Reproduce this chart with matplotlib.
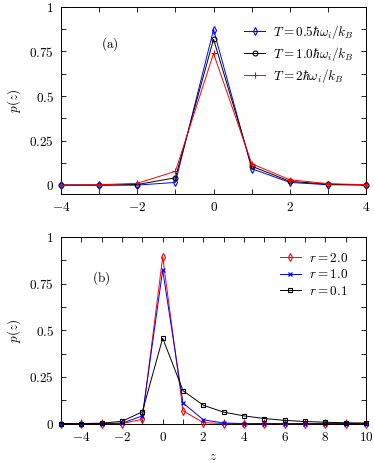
import numpy as np
import matplotlib
matplotlib.use("Agg")
import matplotlib.pyplot as plt
from matplotlib.ticker import MultipleLocator, FuncFormatter

plt.rcParams['mathtext.fontset'] = 'cm'
plt.rcParams['font.family'] = 'serif'
plt.rcParams['font.serif'] = ['DejaVu Serif']

# panel (a): temperature dependence
z_a = [-4, -3, -2, -1, 0, 1, 2, 3, 4]
p_T05 = [0.0, 0.0, 0.0, 0.015, 0.873, 0.092, 0.015, 0.002, 0.0]
p_T10 = [0.0, 0.0, 0.003, 0.041, 0.819, 0.106, 0.021, 0.005, 0.001]
p_T20 = [0.0, 0.002, 0.01, 0.077, 0.739, 0.12, 0.03, 0.008, 0.002]
labels_a = [r'$T = 0.5\hbar\omega_i/k_B$', r'$T = 1.0\hbar\omega_i/k_B$',
            r'$T = 2\hbar\omega_i/k_B$']

# panel (b): r dependence
z_b = [-5, -4, -3, -2, -1, 0, 1, 2, 3, 4, 5, 6, 7, 8, 9, 10]
p_r20 = [0, 0, 0, 0.0, 0.023, 0.893, 0.068, 0.005, 0, 0, 0, 0, 0, 0, 0, 0]
p_r10 = [0, 0, 0, 0.002, 0.041, 0.823, 0.11, 0.02, 0.003, 0, 0, 0, 0, 0, 0, 0]
p_r01 = [0, 0, 0.002, 0.012, 0.063, 0.458, 0.176, 0.098, 0.061, 0.041,
         0.027, 0.017, 0.011, 0.007, 0.004, 0.003]
labels_b = [r'$r = 2.0$', r'$r = 1.0$', r'$r = 0.1$']

fs = 9.5


def fmt(v, pos):
    return '$%g$' % v


def style(ax):
    ax.tick_params(which='both', direction='in', top=True, right=True,
                   length=3.5, width=0.6, labelsize=fs, pad=5)
    ax.yaxis.set_major_locator(MultipleLocator(0.25))
    ax.yaxis.set_minor_locator(MultipleLocator(0.125))
    ax.xaxis.set_major_locator(MultipleLocator(2))
    ax.xaxis.set_minor_locator(MultipleLocator(1))
    ax.xaxis.set_major_formatter(FuncFormatter(fmt))
    ax.yaxis.set_major_formatter(FuncFormatter(fmt))
    for s in ax.spines.values():
        s.set_linewidth(0.7)
    ax.set_ylabel(r'$p(z)$', fontsize=fs)
    ax.yaxis.set_label_coords(-0.125, 0.5)


fig = plt.figure(figsize=(3.74, 4.63), dpi=100)
ax1 = fig.add_axes([0.163, 0.581, 0.816, 0.404])
ax2 = fig.add_axes([0.163, 0.084, 0.816, 0.404])

lw = 0.7
ax1.plot(z_a, p_T05, color='blue', lw=lw, marker='d', ms=4.2, mfc='none',
         mew=0.8, clip_on=False, label=labels_a[0], zorder=3)
ax1.plot(z_a, p_T10, color='black', lw=lw, marker='o', ms=3.5, mfc='none',
         mew=0.8, clip_on=False, label=labels_a[1], zorder=3)
ax1.plot(z_a, p_T20, color='red', lw=lw, marker='+', ms=5, mew=0.8,
         clip_on=False, label=labels_a[2], zorder=3)
ax1.set_xlim(-4, 4)
ax1.set_ylim(-0.05, 1)
style(ax1)
ax1.text(-2.95, 0.77, r'$\mathrm{(a)}$', fontsize=fs)
ax1.legend(loc='upper right', bbox_to_anchor=(0.99, 0.965), frameon=False,
           fontsize=fs, handlelength=1.6, handletextpad=0.6,
           labelspacing=0.3, borderaxespad=0.3)

ax2.plot(z_b, p_r20, color='red', lw=lw, marker='d', ms=4.2, mfc='none',
         mew=0.8, clip_on=False, label=labels_b[0], zorder=3)
ax2.plot(z_b, p_r10, color='blue', lw=lw, marker='x', ms=3.5, mew=0.9,
         clip_on=False, label=labels_b[1], zorder=3)
ax2.plot(z_b, p_r01, color='black', lw=lw, marker='s', ms=3.5, mfc='none',
         mew=0.8, clip_on=False, label=labels_b[2], zorder=3)
ax2.set_xlim(-5, 10)
ax2.set_ylim(-0.003, 1)
style(ax2)
ax2.set_xlabel(r'$z$', fontsize=fs, labelpad=4)
ax2.text(-3.45, 0.76, r'$\mathrm{(b)}$', fontsize=fs)
ax2.legend(loc='upper right', bbox_to_anchor=(0.97, 0.97), frameon=False,
           fontsize=fs, handlelength=1.6, handletextpad=0.6,
           labelspacing=0.25, borderaxespad=0.3)

fig.savefig('out.png', dpi=100)
